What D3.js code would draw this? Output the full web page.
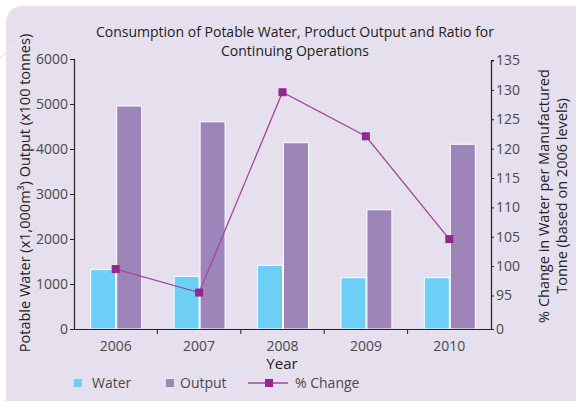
<!DOCTYPE html>
<html><head><meta charset="utf-8">
<script src="https://cdn.jsdelivr.net/npm/d3@7"></script>
<style>body{margin:0;background:#fff}svg{display:block}text{font-family:"Open Sans",sans-serif}</style>
</head><body><svg id="c" width="576" height="401"></svg>
<script>
const years = ["2006","2007","2008","2009","2010"];
const water = [1320, 1170, 1415, 1140, 1140];
const output = [4955, 4605, 4140, 2650, 4105];
const pctChange = [99.5, 95.5, 129.6, 122.1, 104.6];
const leftTicks = [0,1000,2000,3000,4000,5000,6000];
const rightTicks = [0,95,100,105,110,115,120,125,130,135];

const svg = d3.select("#c");
const L=74,R=491,T=59,B=329;
svg.append("rect").attr("x",6).attr("y",6).attr("width",584).attr("height",410).attr("rx",16).attr("fill","#e5dfee");
svg.append("line").attr("x1",0).attr("y1",58).attr("x2",24).attr("y2",36).attr("stroke","#ece8f2").attr("stroke-width",1.5);

const x = d3.scaleBand().domain(years).range([L,R]);
const y = d3.scaleLinear().domain([0,6000]).range([B,T]);
const y2 = d3.scaleLinear().domain([0,95,135]).range([B,295.5,60.5]);
const bw = 25;
const grey="#4a4a4a";

// bars
const g = svg.append("g");
g.selectAll(".w").data(years).join("rect")
  .attr("x",d=>x(d)+x.bandwidth()/2-bw).attr("width",bw)
  .attr("y",(d,i)=>y(water[i])).attr("height",(d,i)=>B-y(water[i]))
  .attr("fill","#6dcff6").attr("stroke","#fff").attr("stroke-width",1);
g.selectAll(".o").data(years).join("rect")
  .attr("x",d=>x(d)+x.bandwidth()/2+1).attr("width",bw)
  .attr("y",(d,i)=>y(output[i])).attr("height",(d,i)=>B-y(output[i]))
  .attr("fill","#9e85b9").attr("stroke","#fff").attr("stroke-width",1);

// axes
const ax = d3.axisLeft(y).tickValues(leftTicks).tickFormat(d3.format("d")).tickSize(4).tickPadding(2);
const gl = svg.append("g").attr("transform",`translate(${L},0)`).call(ax);
const ar = d3.axisRight(y2).tickValues(rightTicks).tickFormat(d3.format("d")).tickSize(3).tickPadding(2);
const gr = svg.append("g").attr("transform",`translate(${R},0)`).call(ar);
const axb = d3.axisBottom(x).tickSize(0).tickPadding(12);
const gb = svg.append("g").attr("transform",`translate(0,${B})`).call(axb);
gb.select(".domain").attr("d",`M${L-4},0.5H${R+3}`);
[gl,gr,gb].forEach(a=>{
  a.selectAll(".domain").attr("stroke","#222").attr("stroke-width",1.2);
  a.selectAll(".tick line").attr("stroke","#222");
  a.selectAll("text").attr("fill",grey).attr("font-size",14).attr("font-family","Open Sans");
});
gl.select(".domain").attr("d",`M-4,${T}.5H0.5V${B}`);
gr.select(".domain").attr("d",`M3,60.5H0.5V${B}`);
svg.append("g").selectAll("line").data(years.slice(1)).join("line")
  .attr("x1",d=>x(d)).attr("x2",d=>x(d)).attr("y1",B).attr("y2",B+5).attr("stroke","#222");

// line
const lx = d=>x(d)+x.bandwidth()/2;
svg.append("path").datum(years).attr("fill","none").attr("stroke","#a0479f").attr("stroke-width",1.3)
  .attr("d",d3.line().x(d=>lx(d)).y((d,i)=>y2(pctChange[i])));
svg.append("g").selectAll("rect").data(years).join("rect")
  .attr("x",d=>lx(d)-4).attr("y",(d,i)=>y2(pctChange[i])-4).attr("width",8).attr("height",8).attr("fill","#92278f");

// titles
const t = svg.append("text").attr("text-anchor","middle").attr("fill","#222").attr("font-size",14);
t.append("tspan").attr("x",295).attr("y",37).text("Consumption of Potable Water, Product Output and Ratio for");
t.append("tspan").attr("x",295).attr("y",56).text("Continuing Operations");
svg.append("text").attr("x",282).attr("y",369).attr("text-anchor","middle").attr("fill","#222").attr("font-size",15).text("Year");
svg.append("text").attr("transform","translate(30,193) rotate(-90)").attr("text-anchor","middle").attr("fill","#222").attr("font-size",14.5)
  .text("Potable Water (x1,000m³) Output (x100 tonnes)");
const rt = svg.append("text").attr("transform","translate(549,196) rotate(-90)").attr("text-anchor","middle").attr("fill","#222").attr("font-size",14.5);
rt.append("tspan").attr("x",0).attr("y",0).text("% Change in Water per Manufactured");
rt.append("tspan").attr("x",0).attr("y",18).text("Tonne (based on 2006 levels)");

// legend
const lg = svg.append("g");
lg.append("rect").attr("x",74).attr("y",379).attr("width",8).attr("height",8).attr("fill","#6dcff6");
lg.append("text").attr("x",92).attr("y",388).attr("fill",grey).attr("font-size",14).text("Water");
lg.append("rect").attr("x",166).attr("y",379).attr("width",8).attr("height",8).attr("fill","#9e85b9");
lg.append("text").attr("x",180).attr("y",388).attr("fill",grey).attr("font-size",14).text("Output");
lg.append("line").attr("x1",248).attr("x2",288).attr("y1",383).attr("y2",383).attr("stroke","#a0479f").attr("stroke-width",1.3);
lg.append("rect").attr("x",265).attr("y",379).attr("width",8).attr("height",8).attr("fill","#92278f");
lg.append("text").attr("x",295).attr("y",388).attr("fill",grey).attr("font-size",14).text("% Change");
</script></body></html>
